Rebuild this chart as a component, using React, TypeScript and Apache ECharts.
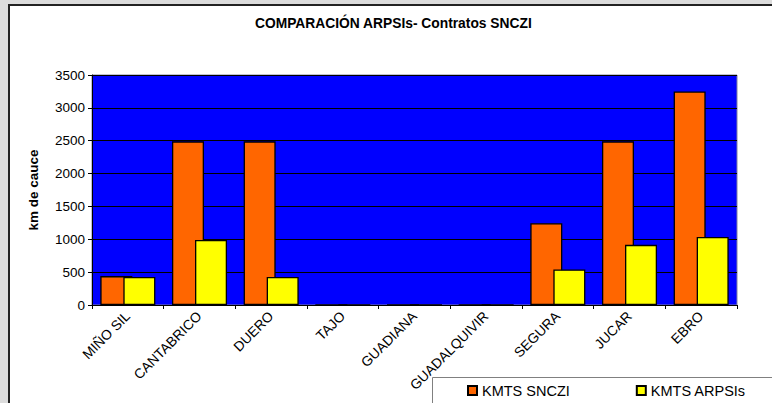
import React, { useEffect, useRef } from "react";
import * as echarts from "echarts";

const categories = ["MIÑO SIL", "CANTABRICO", "DUERO", "TAJO", "GUADIANA", "GUADALQUIVIR", "SEGURA", "JUCAR", "EBRO"];
const kmtsSnczi = [440, 2490, 2490, 0, 0, 0, 1245, 2490, 3250];
const kmtsArpsis = [425, 990, 425, 0, 0, 0, 540, 915, 1035];
const yTicks = { min: 0, max: 3500, interval: 500 };
const seriesNames = ["KMTS SNCZI", "KMTS ARPSIs"];
const titleText = "COMPARACIÓN ARPSIs- Contratos SNCZI";
const yName = "km de cauce";

const FONT = "'Liberation Sans', Arial, sans-serif";

export default function App() {
  const ref = useRef<HTMLDivElement>(null);
  useEffect(() => {
    document.body.style.margin = "0";
    if (!ref.current) return;
    const chart = echarts.init(ref.current, undefined, { renderer: "svg" });
    chart.setOption({
      animation: false,
      textStyle: { fontFamily: FONT },
      graphic: [
        { type: "rect", z: -100, shape: { x: 0, y: 0, width: 772, height: 403 }, style: { fill: "#dcdcdc" }, silent: true },
        { type: "rect", z: -99, shape: { x: 9, y: 5, width: 800, height: 420 }, style: { fill: "#ffffff", stroke: "#222222", lineWidth: 2 }, silent: true },
        { type: "rect", z: -1, shape: { x: 432.5, y: 377.5, width: 400, height: 60 }, style: { fill: "#ffffff", stroke: "#808080", lineWidth: 1 }, silent: true },
      ],
      title: {
        text: titleText,
        left: 255,
        top: 16,
        padding: 0,
        textStyle: { fontFamily: FONT, fontSize: 13.8, fontWeight: "bold", color: "#000" },
      },
      legend: {
        data: seriesNames,
        left: 467,
        top: 383,
        padding: 0,
        itemWidth: 9,
        itemHeight: 9,
        itemGap: 66,
        icon: "rect",
        textStyle: { fontFamily: FONT, fontSize: 14.5, color: "#000" },
      },
      grid: {
        left: 92,
        right: 35,
        top: 75,
        bottom: 98,
        show: true,
        backgroundColor: "#0000ff",
        borderColor: "#8080a0",
        borderWidth: 1,
      },
      xAxis: {
        type: "category",
        data: categories,
        axisLine: { lineStyle: { color: "#000", width: 1 } },
        axisTick: { show: true, length: 4, lineStyle: { color: "#000" } },
        axisLabel: { rotate: 45, margin: 9, fontSize: 13.8, color: "#000", fontFamily: FONT, interval: 0 },
      },
      yAxis: {
        type: "value",
        min: yTicks.min,
        max: yTicks.max,
        interval: yTicks.interval,
        name: yName,
        nameLocation: "middle",
        nameGap: 52,
        nameRotate: 90,
        nameTextStyle: { fontFamily: FONT, fontSize: 13.5, fontWeight: "bold", color: "#000" },
        axisLine: { show: true, lineStyle: { color: "#000", width: 1 } },
        axisTick: { show: true, length: 4, lineStyle: { color: "#000" } },
        axisLabel: { margin: 7, fontSize: 13.5, color: "#000", fontFamily: FONT, formatter: (v: number) => String(v) },
        splitLine: { show: true, lineStyle: { color: "#000", width: 1 } },
      },
      series: [
        {
          name: seriesNames[0],
          type: "bar",
          data: kmtsSnczi,
          barWidth: 32,
          barGap: "-28%",
          itemStyle: { color: "#ff6600", borderColor: "#000", borderWidth: 1.3 },
        },
        {
          name: seriesNames[1],
          type: "bar",
          data: kmtsArpsis,
          barWidth: 32,
          barGap: "-28%",
          itemStyle: { color: "#ffff00", borderColor: "#000", borderWidth: 1.3 },
        },
      ],
    });
    return () => chart.dispose();
  }, []);
  return <div ref={ref} style={{ width: 772, height: 403 }} />;
}
